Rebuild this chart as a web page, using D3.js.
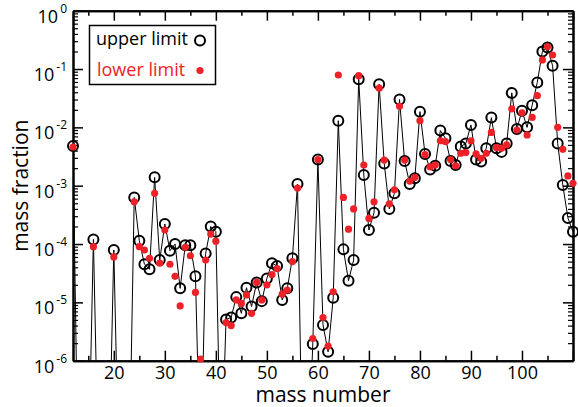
<!DOCTYPE html>
<html>
<head>
<meta charset="utf-8">
<script src="https://cdn.jsdelivr.net/npm/d3@7/dist/d3.min.js"></script>
<style>
body { margin: 0; background: #fff; }
text { font-family: "Open Sans", sans-serif; }
</style>
</head>
<body>
<script>
// mass numbers A = 12 .. 110
var massNumber = [12,13,14,15,16,17,18,19,20,21,22,23,24,25,26,27,28,29,30,31,32,33,34,35,36,37,38,39,40,
  41,42,43,44,45,46,47,48,49,50,51,52,53,54,55,56,57,58,59,60,61,62,63,64,65,66,67,68,69,70,
  71,72,73,74,75,76,77,78,79,80,81,82,83,84,85,86,87,88,89,90,91,92,93,94,95,96,97,98,99,100,
  101,102,103,104,105,106,107,108,109,110]

// upper limit (1e-8 = below the plot, line runs off the bottom)
var upperLimit = [4.8e-3,1e-8,1e-8,1e-8,1.2e-4,1e-8,1e-8,1e-8,7.9e-5,1e-8,1e-8,1e-8,6.3e-4,1.14e-4,4.5e-5,3.7e-5,1.39e-3,5.3e-5,2.2e-4,
  7.7e-5,1.0e-4,1.74e-5,9.5e-5,9.5e-5,2.8e-5,1e-8,6.9e-5,2.0e-4,1.63e-4,
  1e-8,5.1e-6,5.5e-6,1.23e-5,6.5e-6,1.78e-5,8.5e-6,2.2e-5,1.05e-5,2.57e-5,
  4.7e-5,4.2e-5,1.1e-5,1.74e-5,5.7e-5,1.07e-3,1e-8,1e-8,1.94e-6,2.8e-3,
  4.1e-6,1.42e-6,1.2e-5,1.3e-2,8.1e-5,2.35e-5,5.3e-5,6.7e-2,1.52e-3,1.74e-4,
  3.45e-4,5.5e-2,2.4e-3,4.0e-4,7.4e-4,3.0e-2,2.65e-3,1.07e-3,1.34e-3,1.86e-2,
  3.5e-3,1.9e-3,2.2e-3,8.8e-3,6.5e-3,2.65e-3,2.26e-3,4.7e-3,5.3e-3,1.1e-2,
  2.8e-3,2.6e-3,4.4e-3,1.47e-2,4.4e-3,3.8e-3,5.3e-3,3.9e-2,9.4e-3,1.93e-2,
  1.0e-2,2.4e-2,5.9e-2,0.20,0.235,0.114,5.3e-3,1.03e-3,2.8e-4,1.63e-4]

// lower limit (null = not shown)
var lowerLimit = [4.6e-3,null,null,null,9e-5,null,null,null,6.0e-5,null,null,null,5.3e-4,9e-5,7.9e-5,5.7e-5,7.4e-4,4.7e-5,1.74e-4,
  4.5e-5,2.8e-5,8.7e-6,8.8e-5,6.3e-5,1.48e-5,1.07e-6,5.3e-5,1.48e-4,1.12e-4,
  null,4.5e-6,4.0e-6,1.1e-5,9.6e-6,1.34e-5,6.5e-6,2.2e-5,1.1e-5,2.0e-5,
  3.0e-5,3.8e-5,1.38e-5,1.62e-5,5.0e-5,9.1e-4,null,null,2.4e-6,2.8e-3,
  5.5e-6,1.78e-6,1.52e-5,7.9e-2,6.3e-4,1.8e-4,4.0e-4,7.7e-2,2.26e-3,2.75e-4,
  5.3e-4,4.7e-2,2.75e-3,4.9e-4,8.5e-4,2.3e-2,2.75e-3,1.2e-3,1.39e-3,1.3e-2,
  3.4e-3,2.1e-3,2.26e-3,5.9e-3,5.7e-3,2.8e-3,2.2e-3,3.6e-3,3.7e-3,5.9e-3,
  3.5e-3,2.95e-3,3.6e-3,8.2e-3,4.5e-3,4.4e-3,5.0e-3,2.07e-2,9.0e-3,1.78e-2,
  7.4e-3,1.48e-2,3.5e-2,0.143,0.24,0.174,1.0e-2,4.2e-3,1.47e-3,1.1e-3]

var xMajor = [20,30,40,50,60,70,80,90,100,110]
var xMinor = [15,25,35,45,55,65,75,85,95,105]
var xLabels = [20,30,40,50,60,70,80,90,100]
var yExponents = [-6,-5,-4,-3,-2,-1,0]

var W = 578, H = 407
var pLeft = 73, pRight = 573, pTop = 10.7, pBottom = 360.7
var red = "#ee2128"

var svg = d3.select("body").append("svg")
  .attr("width", W).attr("height", H)

var x = d3.scaleLinear().domain([12, 110]).range([pLeft, pRight])
var y = d3.scaleLog().domain([1e-6, 1]).range([pBottom, pTop])

var yMajor = yExponents.map(function(e){ return Math.pow(10, e) })
var yMinor = []
yExponents.slice(0, -1).forEach(function(e){
  for (var k = 2; k <= 9; k++) yMinor.push(k * Math.pow(10, e))
})

var data = massNumber.map(function(a, i){ return {a: a, u: upperLimit[i], l: lowerLimit[i]} })

svg.append("clipPath").attr("id", "plot")
  .append("rect").attr("x", pLeft).attr("y", pTop)
  .attr("width", pRight - pLeft).attr("height", pBottom - pTop)

// connecting line through upper limits
svg.append("path")
  .datum(data)
  .attr("clip-path", "url(#plot)")
  .attr("fill", "none").attr("stroke", "#000").attr("stroke-width", 1)
  .attr("d", d3.line().x(function(d){ return x(d.a) }).y(function(d){ return y(d.u) }))

// axes (ticks point inward)
function styleAxis(g, w) {
  g.select(".domain").attr("stroke-width", 2)
  g.selectAll(".tick line").attr("stroke-width", w)
}

svg.append("g").attr("transform", `translate(0,${pBottom})`)
  .call(d3.axisBottom(x).tickValues(xMinor).tickSizeInner(-5).tickSizeOuter(0).tickFormat(""))
  .call(styleAxis, 1.5)
svg.append("g").attr("transform", `translate(0,${pBottom})`)
  .call(d3.axisBottom(x).tickValues(xMajor).tickSizeInner(-10).tickSizeOuter(0).tickPadding(6)
    .tickFormat(function(d){ return xLabels.indexOf(d) >= 0 ? d : "" }))
  .call(styleAxis, 1.5)
  .call(function(g){ g.selectAll("text").attr("font-size", 18).attr("font-family", "Open Sans, sans-serif").attr("fill", "#000") })

svg.append("g").attr("transform", `translate(0,${pTop})`)
  .call(d3.axisTop(x).tickValues(xMinor).tickSizeInner(-5).tickSizeOuter(0).tickFormat(""))
  .call(styleAxis, 1.5)
svg.append("g").attr("transform", `translate(0,${pTop})`)
  .call(d3.axisTop(x).tickValues(xMajor).tickSizeInner(-10).tickSizeOuter(0).tickFormat(""))
  .call(styleAxis, 1.5)

svg.append("g").attr("transform", `translate(${pLeft},0)`)
  .call(d3.axisLeft(y).tickValues(yMinor).tickSizeInner(-5).tickSizeOuter(0).tickFormat(""))
  .call(styleAxis, 1.2)
svg.append("g").attr("transform", `translate(${pLeft},0)`)
  .call(d3.axisLeft(y).tickValues(yMajor).tickSizeInner(-10).tickSizeOuter(0).tickFormat(""))
  .call(styleAxis, 1.5)

svg.append("g").attr("transform", `translate(${pRight},0)`)
  .call(d3.axisRight(y).tickValues(yMinor).tickSizeInner(-5).tickSizeOuter(0).tickFormat(""))
  .call(styleAxis, 1.2)
svg.append("g").attr("transform", `translate(${pRight},0)`)
  .call(d3.axisRight(y).tickValues(yMajor).tickSizeInner(-10).tickSizeOuter(0).tickFormat(""))
  .call(styleAxis, 1.5)

// y tick labels 10^n
var yl = svg.append("g").selectAll("text").data(yExponents).enter()
  .append("text")
  .attr("x", 67)
  .attr("y", function(e){ return y(Math.pow(10, e)) + 12 })
  .attr("text-anchor", "end")
yl.append("tspan").attr("font-size", 18).text("10")
yl.append("tspan").attr("font-size", 12).attr("dx", 2).attr("dy", -10).text(function(e){ return e })

// markers
svg.append("g").selectAll("circle")
  .data(data.filter(function(d){ return d.u >= 1e-6 }))
  .enter().append("circle")
  .attr("cx", function(d){ return x(d.a) }).attr("cy", function(d){ return y(d.u) })
  .attr("r", 5).attr("fill", "none").attr("stroke", "#000").attr("stroke-width", 2)

svg.append("g").selectAll("circle")
  .data(data.filter(function(d){ return d.l != null && d.l >= 1e-6 }))
  .enter().append("circle")
  .attr("cx", function(d){ return x(d.a) }).attr("cy", function(d){ return y(d.l) })
  .attr("r", 3.6).attr("fill", red)

// legend
var lg = svg.append("g")
lg.append("rect").attr("x", 89.5).attr("y", 25.5).attr("width", 126).attr("height", 59)
  .attr("fill", "#fff").attr("stroke", "#000").attr("stroke-width", 1.5)
lg.append("text").attr("x", 96).attr("y", 45).attr("font-size", 18).attr("fill", "#000").text("upper limit")
lg.append("circle").attr("cx", 200).attr("cy", 40.5).attr("r", 5)
  .attr("fill", "none").attr("stroke", "#000").attr("stroke-width", 2)
lg.append("text").attr("x", 97).attr("y", 76).attr("font-size", 18).attr("fill", red).text("lower limit")
lg.append("circle").attr("cx", 200).attr("cy", 70.5).attr("r", 3.6).attr("fill", red)

// axis titles
svg.append("text").attr("x", (pLeft + pRight) / 2).attr("y", 402)
  .attr("text-anchor", "middle").attr("font-size", 21).text("mass number")
svg.append("text").attr("transform", `translate(28,${(pTop + pBottom) / 2}) rotate(-90)`)
  .attr("text-anchor", "middle").attr("font-size", 21).text("mass fraction")
</script>
</body>
</html>
